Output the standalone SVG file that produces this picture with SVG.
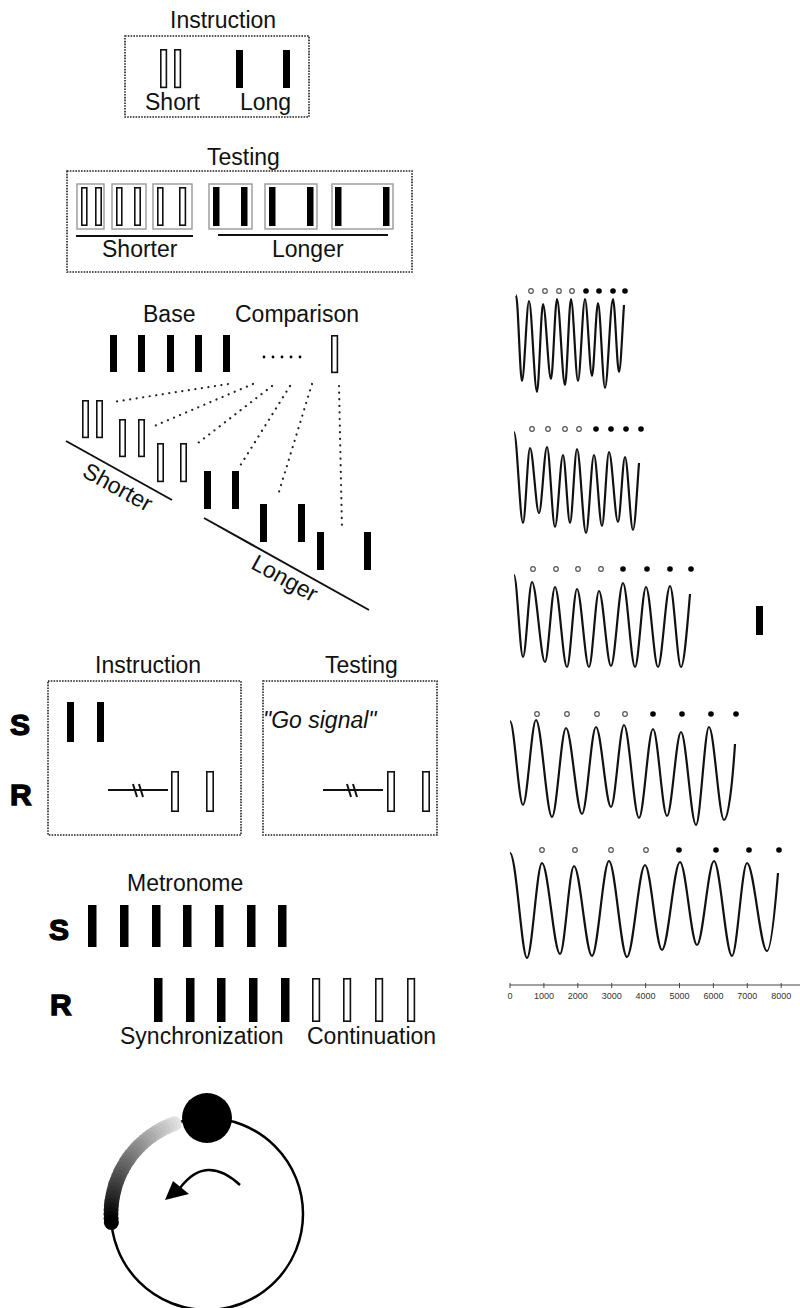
<svg xmlns="http://www.w3.org/2000/svg" width="800" height="1308" viewBox="0 0 800 1308">
  <style>
    .lbl { font-family: "Liberation Sans", Arial, sans-serif; font-size: 23px; fill: #111; }
    .big { font-family: "Liberation Sans", Arial, sans-serif; font-size: 30px; font-weight: bold; fill: #000; stroke: #000; stroke-width: 1.3; }
    .ax { font-family: "Liberation Sans", Arial, sans-serif; font-size: 9px; fill: #333; text-anchor: middle; }
    .open { fill: #fff; stroke: #111; stroke-width: 1.6; }
    .bar { fill: #000; }
    .frame { fill: none; stroke: #222; stroke-width: 1.6; stroke-dasharray: 1.6 1.2; }
    .sub { fill: none; stroke: #999; stroke-width: 1.4; }
    .rule { stroke: #111; stroke-width: 2; fill: none; }
    .dots { fill: none; stroke: #222; stroke-width: 2.2; stroke-dasharray: 0.1 6.5; stroke-linecap: round; }
    .wave { fill: none; stroke: #111; stroke-width: 2.2; }
    .oc { fill: #fff; stroke: #555; stroke-width: 1.2; }
    .fc { fill: #000; }
  </style>
  <rect width="800" height="1308" fill="#fff"/>

  <!-- instruction: short vs long pairs -->
  <g id="instruction-top">
    <text class="lbl" x="170" y="28">Instruction</text>
    <rect class="frame" x="125" y="36" width="184" height="81"/>
    <rect class="open" x="160.8" y="49.8" width="5.6" height="37.6"/>
    <rect class="open" x="174.8" y="49.8" width="5.6" height="37.6"/>
    <rect class="bar" x="236" y="50" width="7" height="38"/>
    <rect class="bar" x="283" y="50" width="7" height="38"/>
    <text class="lbl" x="145" y="110">Short</text>
    <text class="lbl" x="240" y="110">Long</text>
  </g>

  <!-- testing: six interval pairs -->
  <g id="testing-top">
    <text class="lbl" x="207" y="165">Testing</text>
    <rect class="frame" x="67" y="171" width="345" height="101"/>
    <rect class="sub" x="77" y="184" width="27" height="45"/>
    <rect class="sub" x="112" y="184" width="34" height="45"/>
    <rect class="sub" x="153" y="184" width="39" height="45"/>
    <rect class="sub" x="209" y="184" width="43" height="45"/>
    <rect class="sub" x="265" y="184" width="52" height="45"/>
    <rect class="sub" x="332" y="184" width="61" height="45"/>
    <rect class="open" x="81.8" y="187.8" width="5" height="37.4"/>
    <rect class="open" x="95.8" y="187.8" width="5.4" height="37.4"/>
    <rect class="open" x="116.8" y="187.8" width="5" height="37.4"/>
    <rect class="open" x="134.8" y="187.8" width="5.4" height="37.4"/>
    <rect class="open" x="157.8" y="187.8" width="5" height="37.4"/>
    <rect class="open" x="179.8" y="187.8" width="5.6" height="37.4"/>
    <rect class="bar" x="213" y="187" width="6.5" height="39"/>
    <rect class="bar" x="241" y="187" width="6.5" height="39"/>
    <rect class="bar" x="269" y="187" width="6.5" height="39"/>
    <rect class="bar" x="307" y="187" width="6.5" height="39"/>
    <rect class="bar" x="335" y="187" width="6.5" height="39"/>
    <rect class="bar" x="383" y="187" width="6.5" height="39"/>
    <line class="rule" x1="76" y1="236" x2="193" y2="236"/>
    <line class="rule" x1="218" y1="235" x2="388" y2="235"/>
    <text class="lbl" x="102" y="257">Shorter</text>
    <text class="lbl" x="272" y="257">Longer</text>
  </g>

  <!-- base sequence and comparison interval -->
  <g id="base-comparison">
    <text class="lbl" x="143" y="322">Base</text>
    <text class="lbl" x="235" y="322">Comparison</text>
    <rect class="bar" x="110" y="335" width="7" height="37"/>
    <rect class="bar" x="138" y="335" width="7" height="37"/>
    <rect class="bar" x="167" y="335" width="7" height="37"/>
    <rect class="bar" x="195" y="335" width="7" height="37"/>
    <rect class="bar" x="223" y="335" width="7" height="37"/>
    <circle class="fc" cx="264" cy="357" r="1.4"/>
    <circle class="fc" cx="273" cy="357" r="1.4"/>
    <circle class="fc" cx="282" cy="357" r="1.4"/>
    <circle class="fc" cx="291" cy="357" r="1.4"/>
    <circle class="fc" cx="300" cy="357" r="1.4"/>
    <rect class="open" x="331.8" y="335.8" width="5.6" height="36.6"/>
  </g>

  <!-- staircase of comparison intervals -->
  <g id="staircase">
    <rect class="open" x="82.8" y="400.8" width="5.4" height="36.6"/>
    <rect class="open" x="96.8" y="400.8" width="5.4" height="36.6"/>
    <rect class="open" x="119.8" y="419.8" width="5.4" height="36.6"/>
    <rect class="open" x="138.8" y="419.8" width="5.4" height="36.6"/>
    <rect class="open" x="157.8" y="443.8" width="5.4" height="37.6"/>
    <rect class="open" x="180.8" y="443.8" width="5.4" height="37.6"/>
    <rect class="bar" x="204" y="471" width="7" height="38"/>
    <rect class="bar" x="232" y="471" width="7" height="38"/>
    <rect class="bar" x="260" y="504" width="7" height="38"/>
    <rect class="bar" x="298" y="504" width="7" height="38"/>
    <rect class="bar" x="317" y="532" width="7" height="38"/>
    <rect class="bar" x="364" y="532" width="7" height="38"/>
    <line class="rule" x1="66" y1="441" x2="172" y2="500"/>
    <line class="rule" x1="204" y1="518" x2="369" y2="610"/>
    <text class="lbl" x="114" y="494" text-anchor="middle" transform="rotate(29 114 494)">Shorter</text>
    <text class="lbl" x="281" y="585" text-anchor="middle" transform="rotate(29 281 585)">Longer</text>
  </g>

  <!-- dotted guides from base to comparisons -->
  <g id="connectors">
    <line class="dots" x1="228" y1="384" x2="113" y2="402"/>
    <line class="dots" x1="253" y1="384" x2="152" y2="427"/>
    <line class="dots" x1="272" y1="386" x2="198" y2="443"/>
    <line class="dots" x1="290" y1="386" x2="240" y2="466"/>
    <line class="dots" x1="312" y1="384" x2="278" y2="495"/>
    <line class="dots" x1="339" y1="386" x2="342" y2="530"/>
  </g>

  <!-- stimulus / response: instruction and testing -->
  <g id="sr-instruction">
    <text class="big" x="10" y="735">S</text>
    <text class="big" x="10" y="805">R</text>
    <text class="lbl" x="95" y="673">Instruction</text>
    <rect class="frame" x="48" y="681" width="193" height="154"/>
    <rect class="bar" x="67" y="702" width="7" height="40"/>
    <rect class="bar" x="97" y="702" width="7" height="40"/>
    <line class="rule" x1="108" y1="790" x2="168" y2="790" stroke-width="1.8"/>
    <line class="rule" x1="133" y1="784" x2="137" y2="797" stroke-width="1.8"/>
    <line class="rule" x1="139" y1="784" x2="143" y2="797" stroke-width="1.8"/>
    <rect class="open" x="171.8" y="771.8" width="6.4" height="39.4"/>
    <rect class="open" x="206.8" y="771.8" width="6.4" height="39.4"/>
  </g>
  <g id="sr-testing">
    <text class="lbl" x="325" y="673">Testing</text>
    <rect class="frame" x="263" y="681" width="174" height="154"/>
    <text class="lbl" x="263" y="728" font-size="25" font-style="italic">"Go signal"</text>
    <line class="rule" x1="323" y1="790" x2="383" y2="790" stroke-width="1.8"/>
    <line class="rule" x1="347" y1="784" x2="351" y2="797" stroke-width="1.8"/>
    <line class="rule" x1="353" y1="784" x2="357" y2="797" stroke-width="1.8"/>
    <rect class="open" x="387.8" y="771.8" width="6.4" height="39.4"/>
    <rect class="open" x="422.8" y="771.8" width="6.4" height="39.4"/>
  </g>

  <!-- synchronization-continuation task -->
  <g id="metronome">
    <text class="lbl" x="127" y="891">Metronome</text>
    <text class="big" x="49" y="940">S</text>
    <text class="big" x="50" y="1015">R</text>
    <rect class="bar" x="88" y="905" width="8.5" height="42"/>
    <rect class="bar" x="120" y="905" width="8.5" height="42"/>
    <rect class="bar" x="152" y="905" width="8.5" height="42"/>
    <rect class="bar" x="183" y="905" width="8.5" height="42"/>
    <rect class="bar" x="215" y="905" width="8.5" height="42"/>
    <rect class="bar" x="247" y="905" width="8.5" height="42"/>
    <rect class="bar" x="278" y="905" width="8.5" height="42"/>
    <rect class="bar" x="154" y="978" width="8.5" height="44"/>
    <rect class="bar" x="186" y="978" width="8.5" height="44"/>
    <rect class="bar" x="217" y="978" width="8.5" height="44"/>
    <rect class="bar" x="249" y="978" width="8.5" height="44"/>
    <rect class="bar" x="281" y="978" width="8.5" height="44"/>
    <rect class="open" x="312.8" y="978.8" width="6.6" height="42.4"/>
    <rect class="open" x="343.8" y="978.8" width="6.6" height="42.4"/>
    <rect class="open" x="375.8" y="978.8" width="6.6" height="42.4"/>
    <rect class="open" x="407.8" y="978.8" width="6.6" height="42.4"/>
    <text class="lbl" x="120" y="1044">Synchronization</text>
    <text class="lbl" x="307" y="1044">Continuation</text>
  </g>

  <!-- rotating dot on a circle with fading trail -->
  <g id="circle-task">
    <circle cx="207" cy="1214" r="96" fill="none" stroke="#000" stroke-width="2.5"/>
    <g id="trail">
      <circle cx="174.2" cy="1123.8" r="7.5" fill="#e1e1e1"/>
      <circle cx="170.3" cy="1125.3" r="7.5" fill="#dadada"/>
      <circle cx="166.4" cy="1127.0" r="7.5" fill="#d2d2d2"/>
      <circle cx="162.7" cy="1128.8" r="7.5" fill="#cacaca"/>
      <circle cx="159.0" cy="1130.9" r="7.5" fill="#c3c3c3"/>
      <circle cx="155.4" cy="1133.0" r="7.5" fill="#bcbcbc"/>
      <circle cx="151.9" cy="1135.4" r="7.5" fill="#b4b4b4"/>
      <circle cx="148.6" cy="1137.8" r="7.5" fill="#acacac"/>
      <circle cx="145.3" cy="1140.5" r="7.5" fill="#a5a5a5"/>
      <circle cx="142.1" cy="1143.2" r="7.5" fill="#9e9e9e"/>
      <circle cx="139.1" cy="1146.1" r="7.5" fill="#969696"/>
      <circle cx="136.2" cy="1149.1" r="7.5" fill="#8e8e8e"/>
      <circle cx="133.5" cy="1152.3" r="7.5" fill="#878787"/>
      <circle cx="130.8" cy="1155.6" r="7.5" fill="#808080"/>
      <circle cx="128.4" cy="1158.9" r="7.5" fill="#787878"/>
      <circle cx="126.0" cy="1162.4" r="7.5" fill="#707070"/>
      <circle cx="123.9" cy="1166.0" r="7.5" fill="#696969"/>
      <circle cx="121.8" cy="1169.7" r="7.5" fill="#626262"/>
      <circle cx="120.0" cy="1173.4" r="7.5" fill="#5a5a5a"/>
      <circle cx="118.3" cy="1177.3" r="7.5" fill="#525252"/>
      <circle cx="116.8" cy="1181.2" r="7.5" fill="#4b4b4b"/>
      <circle cx="115.4" cy="1185.1" r="7.5" fill="#444444"/>
      <circle cx="114.3" cy="1189.2" r="7.5" fill="#3c3c3c"/>
      <circle cx="113.3" cy="1193.2" r="7.5" fill="#343434"/>
      <circle cx="112.5" cy="1197.3" r="7.5" fill="#2d2d2d"/>
      <circle cx="111.8" cy="1201.5" r="7.5" fill="#262626"/>
      <circle cx="111.4" cy="1205.6" r="7.5" fill="#1e1e1e"/>
      <circle cx="111.1" cy="1209.8" r="7.5" fill="#161616"/>
      <circle cx="111.0" cy="1214.0" r="7.5" fill="#0f0f0f"/>
      <circle cx="111.1" cy="1218.2" r="7.5" fill="#080808"/>
      <circle cx="111.4" cy="1222.4" r="7.5" fill="#000000"/>
    </g>
    <circle cx="207" cy="1118" r="25" fill="#000"/>
    <path d="M240,1185 Q206,1153.5 180,1188" fill="none" stroke="#000" stroke-width="2.5"/>
    <polygon points="165,1200 173,1181 189,1194" fill="#000"/>
  </g>

  <!-- tapping traces -->
  <g id="trace-1">
    <circle class="oc" cx="531" cy="291" r="2.3"/><circle class="oc" cx="545" cy="291" r="2.3"/>
    <circle class="oc" cx="559" cy="291" r="2.3"/><circle class="oc" cx="572" cy="291" r="2.3"/>
    <circle class="fc" cx="586" cy="291" r="2.8"/><circle class="fc" cx="599" cy="291" r="2.8"/>
    <circle class="fc" cx="613" cy="291" r="2.8"/><circle class="fc" cx="625" cy="291" r="2.8"/>
    <path class="wave" d="M516,295 C518,295 520,381 522,381 C524.3,381 526.7,301 529,301 C531.7,301 534.3,392 537,392 C539,392 541,304 543,304 C545.7,304 548.3,379 551,379 C553,379 555,299 557,299 C559.7,299 562.3,385 565,385 C567,385 569,299 571,299 C573.3,299 575.7,381 578,381 C580.3,381 582.7,299 585,299 C587.3,299 589.7,376 592,376 C594,376 596,303 598,303 C600.3,303 602.7,388 605,388 C607.7,388 610.3,299 613,299 C615,299 617,372 619,372 C620.7,372 622.3,330 624,305"/>
  </g>
  <g id="trace-2">
    <circle class="oc" cx="532" cy="429" r="2.3"/><circle class="oc" cx="548" cy="429" r="2.3"/>
    <circle class="oc" cx="565" cy="429" r="2.3"/><circle class="oc" cx="579" cy="429" r="2.3"/>
    <circle class="fc" cx="596" cy="429" r="2.8"/><circle class="fc" cx="611" cy="429" r="2.8"/>
    <circle class="fc" cx="626" cy="429" r="2.8"/><circle class="fc" cx="641" cy="429" r="2.8"/>
    <path class="wave" d="M514,432 C517,432 520,523 523,523 C525.3,523 527.7,448 530,448 C533,448 536,513 539,513 C541.7,513 544.3,447 547,447 C549.7,447 552.3,527 555,527 C557.7,527 560.3,455 563,455 C565.3,455 567.7,523 570,523 C572.3,523 574.7,449 577,449 C580,449 583,533 586,533 C588.7,533 591.3,455 594,455 C596.7,455 599.3,526 602,526 C604.3,526 606.7,452 609,452 C612,452 615,522 618,522 C620.3,522 622.7,457 625,457 C627.7,457 630.3,530 633,530 C635,530 637,490 639,463"/>
  </g>
  <g id="trace-3">
    <circle class="oc" cx="533" cy="569" r="2.3"/><circle class="oc" cx="556" cy="569" r="2.3"/>
    <circle class="oc" cx="578" cy="569" r="2.3"/><circle class="oc" cx="601" cy="569" r="2.3"/>
    <circle class="fc" cx="623" cy="569" r="2.8"/><circle class="fc" cx="647" cy="569" r="2.8"/>
    <circle class="fc" cx="670" cy="569" r="2.8"/><circle class="fc" cx="691" cy="569" r="2.8"/>
    <path class="wave" d="M514,575 C517,575 520,657 523,657 C526,657 529,582 532,582 C536.3,582 540.7,662 545,662 C548.3,662 551.7,587 555,587 C559,587 563,667 567,667 C570.3,667 573.7,589 577,589 C581,589 585,667 589,667 C592.3,667 595.7,591 599,591 C603,591 607,666 611,666 C615,666 619,583 623,583 C627,583 631,667 635,667 C638.7,667 642.3,587 646,587 C650,587 654,667 658,667 C662,667 666,586 670,586 C673.7,586 677.3,667 681,667 C684,667 687,630 690,594"/>
    <rect class="bar" x="756" y="606" width="7" height="29"/>
  </g>
  <g id="trace-4">
    <circle class="oc" cx="537" cy="714" r="2.3"/><circle class="oc" cx="567" cy="714" r="2.3"/>
    <circle class="oc" cx="597" cy="714" r="2.3"/><circle class="oc" cx="625" cy="714" r="2.3"/>
    <circle class="fc" cx="653" cy="714" r="2.8"/><circle class="fc" cx="682" cy="714" r="2.8"/>
    <circle class="fc" cx="711" cy="714" r="2.8"/><circle class="fc" cx="736" cy="714" r="2.8"/>
    <path class="wave" d="M510,721 C514.3,721 518.7,805 523,805 C527.3,805 531.7,720 536,720 C541.3,720 546.7,817 552,817 C556.7,817 561.3,728 566,728 C571.3,728 576.7,814 582,814 C586.7,814 591.3,727 596,727 C601,727 606,807 611,807 C615.3,807 619.7,725 624,725 C629,725 634,818 639,818 C643.7,818 648.3,729 653,729 C657.7,729 662.3,816 667,816 C671.7,816 676.3,732 681,732 C686,732 691,825 696,825 C700.3,825 704.7,727 709,727 C714,727 719,820 724,820 C728,820 732,790 735,744"/>
  </g>
  <g id="trace-5">
    <circle class="oc" cx="542" cy="850" r="2.3"/><circle class="oc" cx="575" cy="850" r="2.3"/>
    <circle class="oc" cx="611" cy="850" r="2.3"/><circle class="oc" cx="646" cy="850" r="2.3"/>
    <circle class="fc" cx="679" cy="850" r="2.8"/><circle class="fc" cx="716" cy="850" r="2.8"/>
    <circle class="fc" cx="749" cy="850" r="2.8"/><circle class="fc" cx="779" cy="850" r="2.8"/>
    <path class="wave" d="M510,853 C516.3,853 521.7,958 527,958 C532,958 537,863 542,863 C548,863 554,954 560,954 C564.7,954 569.3,866 574,866 C580,866 586,956 592,956 C597.7,956 603.3,861 609,861 C615,861 621,957 627,957 C633,957 639,865 645,865 C650.7,865 656.3,950 662,950 C668,950 674,862 680,862 C685.7,862 691.3,945 697,945 C702.7,945 708.3,861 714,861 C720,861 726,956 732,956 C737,956 742,863 747,863 C753.7,863 760.3,951 767,951 C771,951 775,910 778,873"/>
  </g>

  <!-- time axis (ms) -->
  <g id="time-axis">
    <line x1="510" y1="985" x2="800" y2="985" stroke="#444" stroke-width="1.2"/>
    <g stroke="#444" stroke-width="1">
      <line x1="510" y1="983" x2="510" y2="988"/>
      <line x1="543.9" y1="983" x2="543.9" y2="988"/>
      <line x1="577.8" y1="983" x2="577.8" y2="988"/>
      <line x1="611.7" y1="983" x2="611.7" y2="988"/>
      <line x1="645.6" y1="983" x2="645.6" y2="988"/>
      <line x1="679.5" y1="983" x2="679.5" y2="988"/>
      <line x1="713.4" y1="983" x2="713.4" y2="988"/>
      <line x1="747.3" y1="983" x2="747.3" y2="988"/>
      <line x1="781.2" y1="983" x2="781.2" y2="988"/>
    </g>
    <text class="ax" x="510" y="999">0</text>
    <text class="ax" x="543.9" y="999">1000</text>
    <text class="ax" x="577.8" y="999">2000</text>
    <text class="ax" x="611.7" y="999">3000</text>
    <text class="ax" x="645.6" y="999">4000</text>
    <text class="ax" x="679.5" y="999">5000</text>
    <text class="ax" x="713.4" y="999">6000</text>
    <text class="ax" x="747.3" y="999">7000</text>
    <text class="ax" x="781.2" y="999">8000</text>
  </g>
</svg>
